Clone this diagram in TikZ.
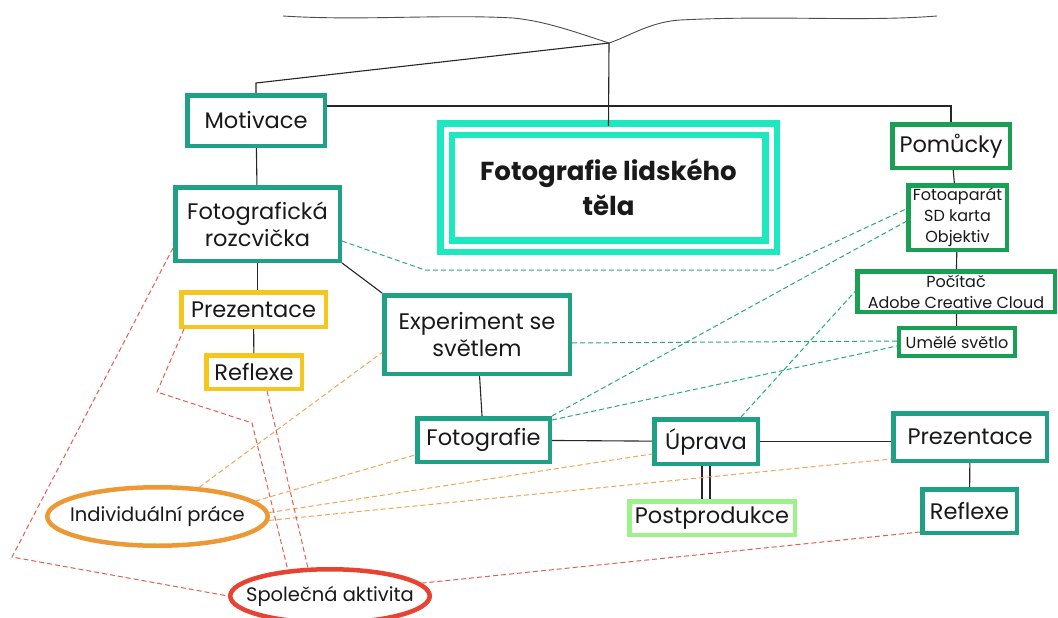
\documentclass[tikz,border=0pt]{standalone}
\usepackage{fontspec}
\setmainfont{Poppins}
\usetikzlibrary{shapes.geometric}

\definecolor{tealbox}{RGB}{32,160,132}
\definecolor{greenbox}{RGB}{26,160,84}
\definecolor{cyanbox}{RGB}{30,232,192}
\definecolor{yellowbox}{RGB}{245,198,30}
\definecolor{lightbox}{RGB}{158,242,140}
\definecolor{orangebox}{RGB}{236,152,52}
\definecolor{redbox}{RGB}{232,66,50}
\definecolor{greendash}{RGB}{40,170,120}
\definecolor{orangedash}{RGB}{240,165,85}
\definecolor{reddash}{RGB}{225,95,80}

\begin{document}
\begin{tikzpicture}[x=1pt, y=-1pt,
    box/.style={draw=tealbox, line width=4.5pt, fill=white, inner sep=0pt, align=center,
      text=black!90, font=\fontsize{22.5}{27}\selectfont},
    yellow/.style={box, draw=yellowbox},
    tool/.style={box, draw=greenbox, font=\fontsize{16}{21}\selectfont},
    oval/.style={ellipse, draw, line width=4.5pt, fill=white, inner sep=0pt,
      text=black!90, font=\fontsize{19.5}{22}\selectfont},
    link/.style={black!85, line width=1.1pt},
    gdash/.style={greendash, line width=1pt, dash pattern=on 5pt off 3pt},
    odash/.style={orangedash, line width=1pt, dash pattern=on 5pt off 3pt},
    rdash/.style={reddash, line width=1pt, dash pattern=on 5pt off 3pt}]
    \useasboundingbox (0,0) rectangle (1058,618);

    % main topic
    \node[box, draw=cyanbox, line width=6.5pt, double=white, double distance=5pt,
      minimum width=325pt, minimum height=117pt, font=\bfseries\fontsize{26}{35}\selectfont]
      (tema) at (608.5,187.5) {Fotografie lidského\\těla};

    % left branch
    \node[box, minimum width=137.5pt, minimum height=50.5pt] (motivace) at (256,120.5) {Motivace};
    \node[box, minimum width=164.5pt, minimum height=73.5pt] (rozcvicka) at (257.5,224) {Fotografická\\rozcvička};
    \node[yellow, minimum width=144.5pt, minimum height=34.5pt] (prez1) at (253.5,309.5) {Prezentace};
    \node[yellow, minimum width=95.5pt, minimum height=33.5pt] (refl1) at (254,372) {Reflexe};
    \node[box, minimum width=185.5pt, minimum height=78.5pt] (experiment) at (477,334.5) {Experiment se\\světlem};
    \node[box, minimum width=132.5pt, minimum height=43.5pt] (foto) at (483.5,440) {Fotografie};
    \node[box, minimum width=103.5pt, minimum height=44.5pt] (uprava) at (706,441.5) {Úprava};
    \node[box, draw=lightbox, minimum width=165.5pt, minimum height=33.5pt] (post) at (712,518) {Postprodukce};
    \node[box, minimum width=153.5pt, minimum height=47.5pt] (prez2) at (970,437) {Prezentace};
    \node[box, minimum width=94.5pt, minimum height=43.5pt] (refl2) at (969.5,511) {Reflexe};

    % right branch
    \node[tool, font=\fontsize{22.5}{27}\selectfont, minimum width=117.5pt, minimum height=43.5pt] (pomucky) at (951,146) {Pomůcky};
    \node[tool, minimum width=98.5pt, minimum height=64.5pt] (aparat) at (957.5,217.5) {Fotoaparát\\SD karta\\Objektiv};
    \node[tool, minimum width=197.5pt, minimum height=40.5pt] (pocitac) at (956,291.5) {Počítač\\Adobe Creative Cloud};
    \node[tool, line width=4pt, minimum width=116pt, minimum height=28pt] (svetlo) at (957,342) {Umělé světlo};

    % forms of work
    \node[oval, draw=orangebox, minimum width=220.5pt, minimum height=58.5pt] (indiv) at (157.5,516.5) {\makebox[0pt]{Individuální práce}};
    \node[oval, draw=redbox, minimum width=199.5pt, minimum height=53.5pt] (spolec) at (330,596) {\makebox[0pt]{Společná aktivita}};

    % top brace
    \coordinate (hub) at (609,43);
    \coordinate (bar) at (609,106);
    \draw[black!70, line width=0.9pt] (283,16) .. controls (360,21) and (440,14) .. (513,18)
      .. controls (545,21) and (575,32) .. (hub)
      .. controls (630,36) and (650,22) .. (680,20)
      .. controls (780,15) and (860,22) .. (937,16);

    % tree lines
    \draw[link] (hub) -- (tema.north);
    \draw[link] (hub) -- (motivace.north |- 0,83) -- (motivace.north);
    \draw[link] (motivace.east |- bar) -| (pomucky.north);
    \draw[link] (motivace) -- (rozcvicka);
    \draw[link] (rozcvicka.south) -- (rozcvicka.south |- prez1.north);
    \draw[link] (prez1) -- (refl1);
    \draw[link] (rozcvicka.south east) -- (experiment.north west);
    \draw[link] (experiment) -- (foto);
    \draw[link] (foto) -- (uprava);
    \draw[link] (uprava.east) -- (prez2.west |- uprava.east);
    \draw[link] (prez2) -- (refl2);
    \draw[link] ([xshift=-4pt]uprava.south) -- ([xshift=-4pt]uprava.south |- post.north);
    \draw[link] ([xshift=4pt]uprava.south) -- ([xshift=4pt]uprava.south |- post.north);
    \draw[link] (pomucky) -- (aparat);
    \draw[link] (aparat) -- (pocitac);
    \draw[link] (pocitac) -- (svetlo);

    % green links to tools
    \draw[gdash] ([yshift=-17pt]rozcvicka.east) -- (425,270) -- (775,270) -- ([yshift=8.5pt]aparat.west);
    \draw[gdash] (foto.north east) -- ([yshift=-4pt]aparat.west);
    \draw[gdash] ([yshift=-8.5pt]experiment.east) -- ([yshift=1pt]svetlo.west);
    \draw[gdash] ([yshift=20pt]foto.east) -- ([yshift=-4pt]svetlo.west);
    \draw[gdash] ([xshift=-19pt]uprava.north east) -- (pocitac.west);

    % orange links
    \draw[odash] (indiv.35) -- ([yshift=-18pt]experiment.west);
    \draw[odash] (indiv.9) -- ([yshift=-15pt]foto.west);
    \draw[odash] (indiv.2) -- ([yshift=-12.5pt]uprava.west);
    \draw[odash] (indiv.-2) -- ([yshift=-22pt]prez2.west);

    % red links
    \draw[rdash] ([yshift=-24pt]rozcvicka.west) -- (12,557) -- (spolec.west);
    \draw[rdash] ([xshift=5pt]prez1.south west) -- (157,392) -- (252,423) -- (spolec.148);
    \draw[rdash] ([xshift=13pt]refl1.south) -- (spolec.128);
    \draw[rdash] (spolec.8) -- ([yshift=3pt]refl2.south west);
\end{tikzpicture}
\end{document}
